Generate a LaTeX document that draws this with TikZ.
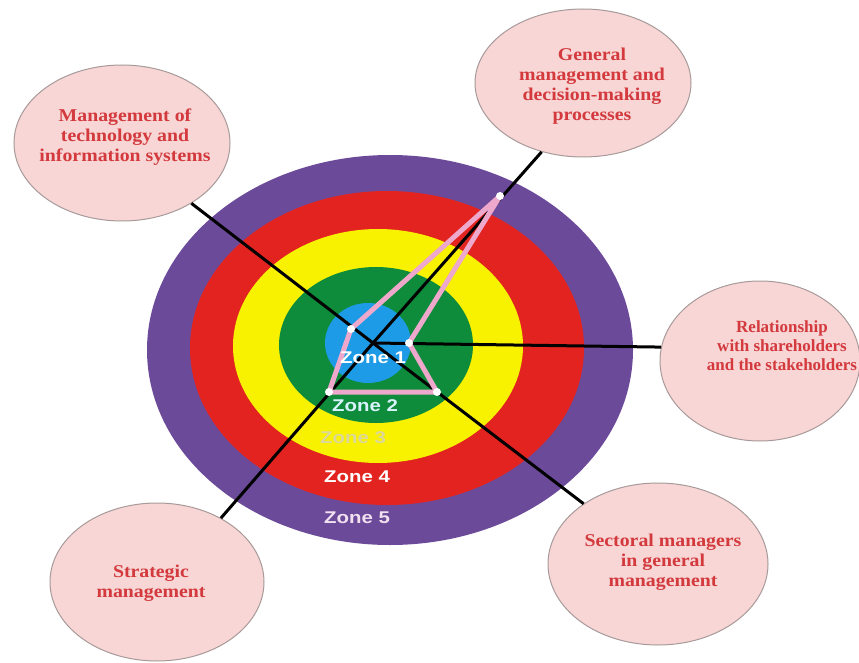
\documentclass[tikz,border=0pt]{standalone}
\usepackage{fontspec}
\usetikzlibrary{shapes.geometric}
\newfontfamily\bubblefont[FakeStretch=1.1]{Liberation Serif}
\newfontfamily\bubblefontnarrow{Liberation Serif}
\newfontfamily\zonefont[FakeStretch=1.2]{Liberation Sans}
\definecolor{zonefive}{HTML}{6C4A9A}
\definecolor{zonefour}{HTML}{E2231F}
\definecolor{zonethree}{HTML}{F8F200}
\definecolor{zonetwo}{HTML}{0E8C3C}
\definecolor{zoneone}{HTML}{1E9BE6}
\definecolor{kitepink}{HTML}{EDA8CC}
\definecolor{bubblefill}{HTML}{F7D6D5}
\definecolor{bubbleedge}{HTML}{A89A9A}
\definecolor{bubbletext}{HTML}{D3393D}
\definecolor{zonethreetext}{HTML}{DCD79A}
\begin{document}
\begin{tikzpicture}[x=1pt,y=-1pt,
  bubble/.style={ellipse, draw=bubbleedge, line width=1pt, fill=bubblefill, inner sep=0pt},
  bubbletxt/.style={align=center, text=bubbletext, font=\bubblefont\bfseries\fontsize{18}{20}\selectfont, inner sep=0pt},
  spoke/.style={line width=3pt, black},
  kite/.style={line width=5pt, kitepink, line join=round, line cap=round},
  vertexdot/.style={fill=white},
  zonelabel/.style={font=\zonefont\bfseries\fontsize{17}{19}\selectfont, inner sep=0pt}]
\useasboundingbox (0,0) rectangle (859,663);

% concentric zones
\fill[zonefive]  (390,350) ellipse [x radius=243pt, y radius=195pt];
\fill[zonefour]  (387,348) ellipse [x radius=197pt, y radius=157pt];
\fill[zonethree] (378,346) ellipse [x radius=145pt, y radius=117pt];
\fill[zonetwo]   (376,345) ellipse [x radius=97pt,  y radius=78pt];
\fill[zoneone]   (368,343) ellipse [x radius=43pt,  y radius=40pt];

% outer bubbles
\node[bubble, minimum width=216pt, minimum height=156pt] (tech)  at (122,143) {};
\node[bubble, minimum width=216pt, minimum height=148pt] (gen)   at (583,83)  {};
\node[bubble, minimum width=200pt, minimum height=160pt] (rel)   at (760,361) {};
\node[bubble, minimum width=220pt, minimum height=162pt] (sect)  at (658,564) {};
\node[bubble, minimum width=214pt, minimum height=158pt] (strat) at (157,582) {};

% spokes from the hub to each bubble
\coordinate (hub) at (373,343);
\draw[spoke] (hub) -- (tech.319);
\draw[spoke] (hub) -- (gen.239);
\draw[spoke] (hub) -- (rel.172);
\draw[spoke] (hub) -- (sect.141);
\draw[spoke] (hub) -- (strat.45);

% pink kite
\coordinate (pA) at (500,196);
\coordinate (pB) at (351,329);
\coordinate (pC) at (409,343);
\coordinate (pD) at (329,392);
\coordinate (pE) at (437,392);
\draw[kite] (pA) -- (pB) -- (pD) -- (pE) -- (pC) -- cycle;
\foreach \p in {pA,pB,pC,pD,pE} \fill[vertexdot] (\p) circle (4pt);

% zone labels
\node[zonelabel, text=white]          (z1) at (373,358) {Zone 1};
\node[zonelabel, text=white!85!cyan]  (z2) at (365,406) {Zone 2};
\node[zonelabel, text=zonethreetext]  (z3) at (353,438) {Zone 3};
\node[zonelabel, text=white]          (z4) at (357,477) {Zone 4};
\node[zonelabel, text=white!88!violet] (z5) at (357,518) {Zone 5};

% bubble texts
\node[bubbletxt] (techtxt)  at (125,137) {Management of\\technology and\\information systems};
\node[bubbletxt] (gentxt)   at (592,86)  {General\\management and\\decision-making\\processes};
\node[bubbletxt, font=\bubblefontnarrow\bfseries\fontsize{17}{19}\selectfont]
  (reltxt) at (782,346) {Relationship\\with shareholders\\and the stakeholders};
\node[bubbletxt] (secttxt)  at (663,562) {Sectoral managers\\in general\\management};
\node[bubbletxt] (strattxt) at (151,583) {Strategic\\management};
\end{tikzpicture}
\end{document}
